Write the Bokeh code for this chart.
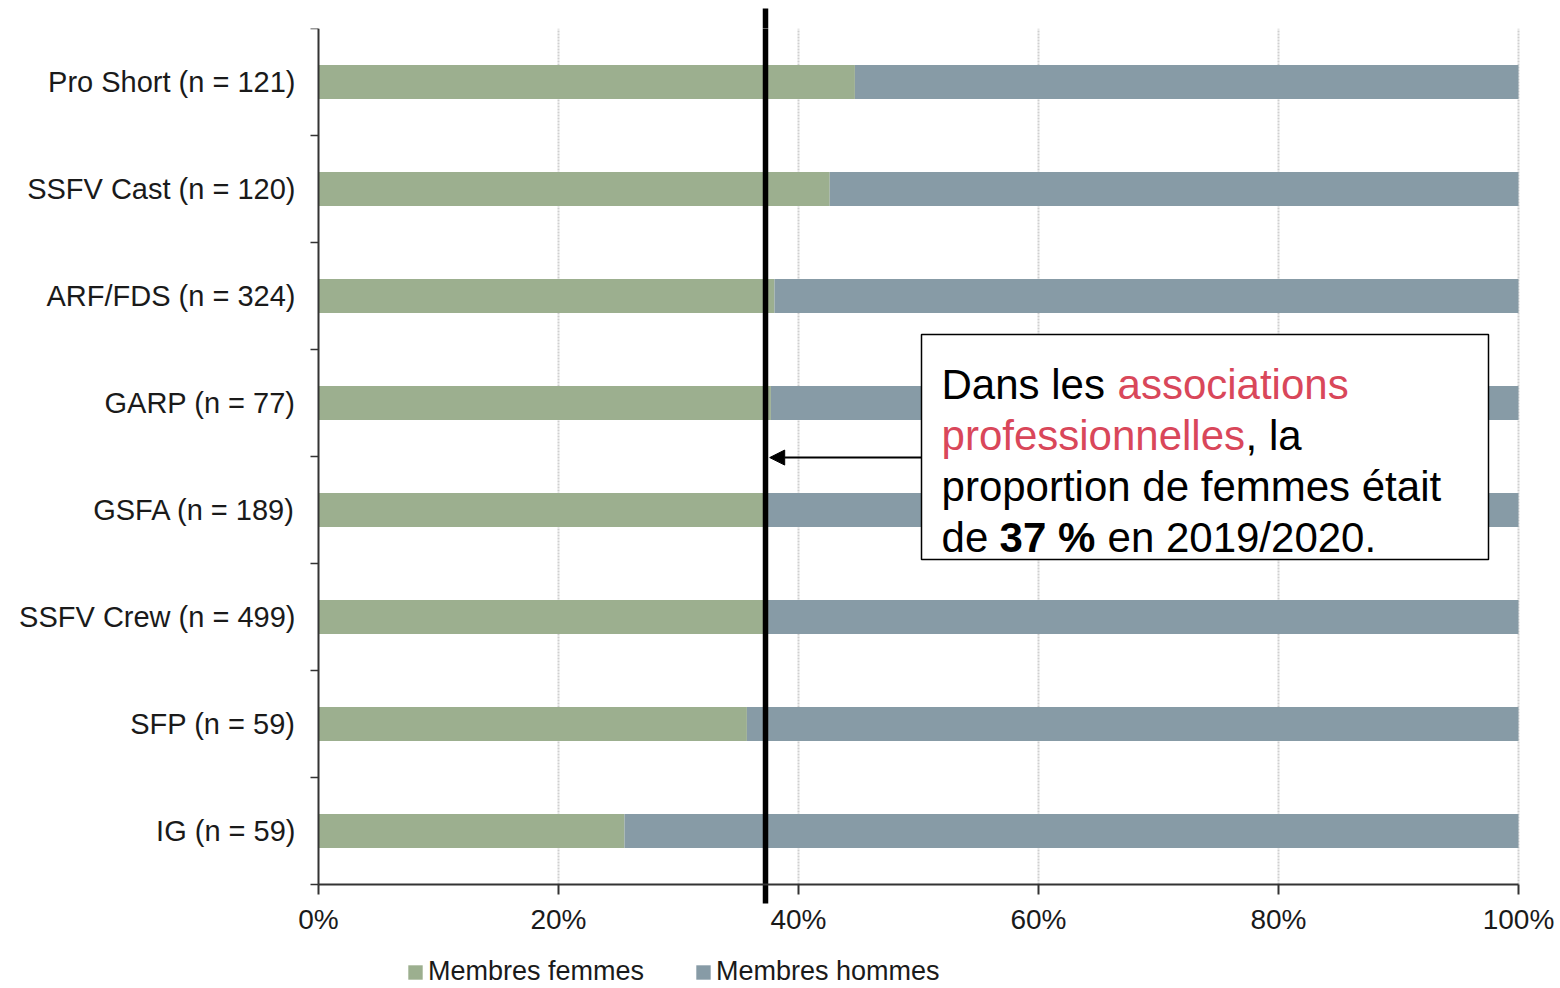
from bokeh.plotting import figure
from bokeh.models import (ColumnDataSource, FixedTicker, Arrow, NormalHead, BoxAnnotation,
                          Label, Legend, LegendItem, LinearAxis)
from bokeh.embed import file_html
from bokeh.resources import INLINE

# ---- data ----
categories = ["Pro Short (n = 121)", "SSFV Cast (n = 120)", "ARF/FDS (n = 324)",
              "GARP (n = 77)", "GSFA (n = 189)", "SSFV Crew (n = 499)",
              "SFP (n = 59)", "IG (n = 59)"]
femmes = [44.7, 42.6, 38.0, 37.7, 37.1, 37.1, 35.7, 25.5]
hommes = [55.3, 57.4, 62.0, 62.3, 62.9, 62.9, 64.3, 74.5]
x_ticks = [0, 20, 40, 60, 80, 100]
x_tick_labels = ["0%", "20%", "40%", "60%", "80%", "100%"]
moyenne = 37.25
series_labels = ["Membres femmes", "Membres hommes"]

# ---- styles ----
FONT = "Liberation Sans"
GREEN = "#9caf8f"
GREY = "#879ba6"
RED = "#d9475a"
AXIS = "#333333"
TXT = "#1a1a1a"

n = len(categories)
y_lo, y_hi = -0.5, n - 0.5
PX = 107.0                      # pixels per category band
XPX = 12.0                      # pixels per percent
y_pos = list(range(n - 1, -1, -1))
src = ColumnDataSource(dict(y=y_pos, f=femmes,
                            total=[a + b for a, b in zip(femmes, hommes)]))

# frame covers the whole canvas width and extends below the x axis,
# so that axes are placed at fixed data locations and the legend lives inside it
p = figure(frame_width=1558, frame_height=960,
           x_range=(-318 / XPX, 100 + 40 / XPX),
           y_range=(y_lo - 104 / PX, y_hi),
           output_backend="svg", toolbar_location=None,
           min_border_left=0, min_border_right=0, min_border_top=28, min_border_bottom=0)
p.outline_line_color = None
p.background_fill_color = "white"
p.border_fill_color = "white"
p.xgrid.visible = False
p.ygrid.visible = False

# vertical grid lines limited to the category area
gx = x_ticks[1:]
p.segment(x0=gx, y0=[y_lo] * len(gx), x1=gx, y1=[y_hi] * len(gx),
          line_color="#cfcfcf", line_width=2, line_dash="2 1")

r_f = p.hbar(y="y", left=0, right="f", height=0.318, source=src, fill_color=GREEN,
             line_color=None)
r_h = p.hbar(y="y", left="f", right="total", height=0.318, source=src, fill_color=GREY,
             line_color=None)

# average line (lower part crossing the x axis)
p.segment(x0=[moyenne], y0=[y_lo - 19 / PX], x1=[moyenne], y1=[y_hi],
          line_color="black", line_width=5.5)

# x axis fixed at the bottom of the category area
xa = p.xaxis[0]
xa.fixed_location = y_lo
xa.bounds = (x_ticks[0], x_ticks[-1])
xa.ticker = FixedTicker(ticks=x_ticks)
xa.major_label_overrides = {t: l for t, l in zip(x_ticks, x_tick_labels)}
xa.major_tick_out = 10
xa.major_tick_in = 0
xa.minor_tick_line_color = None
xa.axis_line_color = AXIS
xa.axis_line_width = 2
xa.major_tick_line_color = AXIS
xa.major_tick_line_width = 2
xa.major_label_text_font = FONT
xa.major_label_text_font_size = "28px"
xa.major_label_text_color = TXT
xa.major_label_standoff = 9

# top axis: only the upper extension of the average line
ta = LinearAxis(ticker=FixedTicker(ticks=[], minor_ticks=[moyenne]))
ta.axis_line_color = None
ta.major_tick_line_color = None
ta.major_label_text_font_size = "0px"
ta.minor_tick_out = 20
ta.minor_tick_in = 0
ta.minor_tick_line_color = "black"
ta.minor_tick_line_width = 5.5
p.add_layout(ta, "above")

# y axis fixed at 0 %
ya = p.yaxis[0]
ya.fixed_location = x_ticks[0]
ya.bounds = (y_lo, y_hi)
ya.ticker = FixedTicker(ticks=y_pos, minor_ticks=[i - 0.5 for i in range(n + 1)])
ya.major_label_overrides = {y: c for y, c in zip(y_pos, categories)}
ya.major_tick_line_color = None
ya.major_tick_out = 0
ya.major_tick_in = 0
ya.minor_tick_out = 8
ya.minor_tick_in = 0
ya.minor_tick_line_color = AXIS
ya.minor_tick_line_width = 1.5
ya.axis_line_color = AXIS
ya.axis_line_width = 2
ya.major_label_text_font = FONT
ya.major_label_text_font_size = "29px"
ya.major_label_text_color = TXT
ya.major_label_standoff = 15

# legend (inside the extended frame, below the x axis)
lg = Legend(items=[LegendItem(label=series_labels[0], renderers=[r_f]),
                   LegendItem(label=series_labels[1], renderers=[r_h])],
            orientation="horizontal", location=(406, 1))
lg.glyph_width = 18
lg.glyph_height = 18
lg.label_text_font = FONT
lg.label_text_font_size = "27px"
lg.label_text_color = TXT
lg.label_standoff = 4
lg.spacing = 50
lg.padding = 0
lg.margin = 0
lg.border_line_color = None
lg.background_fill_alpha = 0
p.add_layout(lg)

# annotation box
p.add_layout(BoxAnnotation(left=50.25, right=97.5, top=4.64, bottom=2.537,
                           fill_color="white", fill_alpha=1.0,
                           line_color="black", line_width=1.5, line_alpha=1.0))
p.add_layout(Arrow(end=NormalHead(size=15, fill_color="black", line_color="black"),
                   x_start=50.25, y_start=3.49, x_end=moyenne + 0.35, y_end=3.49,
                   line_width=2, line_color="black"))

lx = 51.92
def lab(text, y, off=0, color="black", style="normal"):
    p.add_layout(Label(x=lx, y=y, x_offset=off, text=text, text_font=FONT,
                       text_font_size="42px", text_color=color, text_font_style=style,
                       text_baseline="alphabetic", text_align="left"))

lab("Dans les", 4.173)
lab("associations", 4.173, off=176, color=RED)
lab("professionnelles", 3.696, color=RED)
lab(", la", 3.696, off=304)
lab("proportion de femmes était", 3.220)
lab("de", 2.743)
lab("37 %", 2.743, off=58, style="bold")
lab("en 2019/2020.", 2.743, off=166)

open("out.html", "w").write(file_html(p, INLINE))
